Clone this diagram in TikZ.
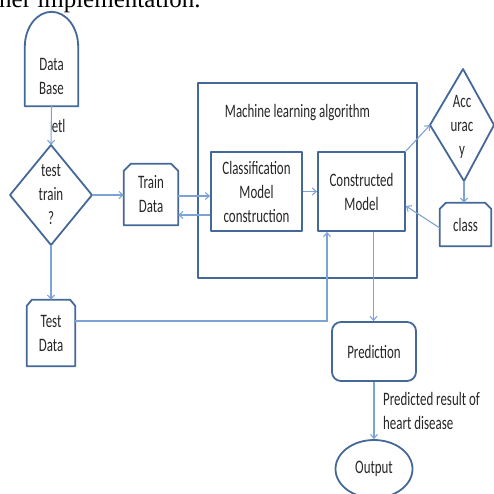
\documentclass[tikz,border=0pt]{standalone}
\usepackage{fontspec}
\setmainfont[FakeStretch=0.68]{Carlito}
\newfontfamily\hdrfont{Liberation Serif}
\usetikzlibrary{arrows.meta,calc,shapes.geometric}
\definecolor{boxblue}{RGB}{68,104,152}
\definecolor{linkblue}{RGB}{125,163,212}
\begin{document}
\begin{tikzpicture}[x=1pt,y=-1pt,
  box/.style={draw=boxblue,line width=1.8pt,line join=round},
  txt/.style={font=\fontsize{19}{24}\selectfont,align=center,inner sep=0pt,text=black!85},
  plain/.style={txt,draw=none},
  boxnode/.style={txt,box,rectangle},
  conn/.style={draw=linkblue,line width=1.1pt,-{Straight Barb[length=4pt,width=7pt]}},
  link/.style={draw=linkblue,line width=1.1pt}]
\useasboundingbox (0,0) rectangle (494,493);

% cut-off header line
\node[anchor=base west,inner sep=0pt,font=\hdrfont\fontsize{25}{30}\selectfont] (hdr) at (-1,7) {ner implementation.};

% Data Base
\node[plain,minimum width=53pt,minimum height=59pt] (db) at (51.5,76.5) {Data\\Base};
\draw[box] (db.north west) .. controls +(0,19.5pt) and +(-14.6pt,0) .. ($(db.north)+(0,35pt)$)
  .. controls +(14.6pt,0) and +(0,19.5pt) .. (db.north east) -- (db.south east) -- (db.south west) -- cycle;

% test/train diamond
\node[plain] (tt) at (51,195) {test\\train\\?};
\coordinate (ttN) at (51,145);
\coordinate (ttE) at (92,195);
\coordinate (ttS) at (51,245);
\coordinate (ttW) at (10,195);
\draw[box] (ttN) -- (ttE) -- (ttS) -- (ttW) -- cycle;

% Train Data
\node[plain,minimum width=54pt,minimum height=61pt] (train) at (151,194.5) {Train\\Data};
\draw[box] ([yshift=-7pt]train.north west) -- ([xshift=7pt]train.north west) -- ([xshift=-7pt]train.north east)
  -- ([yshift=-7pt]train.north east) -- (train.south east) -- (train.south west) -- cycle;

% Test Data
\node[plain,minimum width=48pt,minimum height=66pt] (testd) at (51,333) {Test\\Data};
\draw[box] ([yshift=-6pt]testd.north west) -- ([xshift=5pt]testd.north west) -- ([xshift=-5pt]testd.north east)
  -- ([yshift=-6pt]testd.north east) -- (testd.south east) -- (testd.south west) -- cycle;

% Machine learning container
\node[box,minimum width=219pt,minimum height=195pt,inner sep=0pt] (ml) at (307.5,180.5) {};
\node[plain] (mllabel) at (297.5,113) {Machine learning algorithm};

\node[boxnode,minimum width=91pt,minimum height=79pt] (cls) at (256.5,191.5) {Classification\\Model\\construction};
\node[boxnode,minimum width=87pt,minimum height=79pt] (cm) at (361.5,191.5) {Constructed\\Model};

% Accuracy diamond
\node[plain] (acc) at (462,127) {Acc\\urac\\y};
\coordinate (accN) at (463,69);
\coordinate (accE) at (494,125);
\coordinate (accS) at (464,181);
\coordinate (accW) at (430,125);
\draw[box] (accN) -- (accE) -- (accS) -- (accW) -- cycle;

% class
\node[plain,minimum width=51pt,minimum height=43pt] (clsbox) at (465.5,224.5) {class};
\draw[box] ([yshift=-6pt]clsbox.north west) -- ([xshift=6pt]clsbox.north west) -- ([xshift=-6pt]clsbox.north east)
  -- ([yshift=-6pt]clsbox.north east) -- (clsbox.south east) -- (clsbox.south west) -- cycle;

% Prediction and Output
\node[txt,box,rounded corners=9pt,minimum width=84pt,minimum height=59pt] (pred) at (374,351.5) {Prediction};
\node[txt,box,ellipse,minimum width=77pt,minimum height=58pt] (out) at (374,469) {Output};

% connectors
\draw[conn] (db.south) -- node[plain,anchor=west,xshift=0pt] (etl) {etl} (ttN);
\draw[conn] (ttE) -- (ttE -| train.west);
\draw[conn] (ttS) -- (testd.north);
\draw[conn] ([yshift=-1.5pt]train.east) -- ([yshift=-1.5pt]train.east -| cls.west);
\draw[conn] ([yshift=-23.5pt]cls.west) -- ([yshift=-23.5pt]cls.west -| train.east);
\draw[conn] (cls.east) -- (cm.west);
\draw[conn] (cm.north east) -- (accW);
\draw[conn] (accS) -- (accS |- clsbox.north);
\draw[conn] ([yshift=-3.5pt]clsbox.west) -- ([yshift=-14.5pt]cm.east);
\draw[conn] ([yshift=12pt]testd.east) -| ([xshift=-34.5pt]cm.south);
\draw[conn] ([xshift=12pt]cm.south) -- ([xshift=12pt]cm.south |- pred.north);
\draw[conn] (pred.south) -- (out.north);
\node[plain,align=left,anchor=west] (res) at (383,410.5) {Predicted result of\\heart disease};
\end{tikzpicture}
\end{document}
